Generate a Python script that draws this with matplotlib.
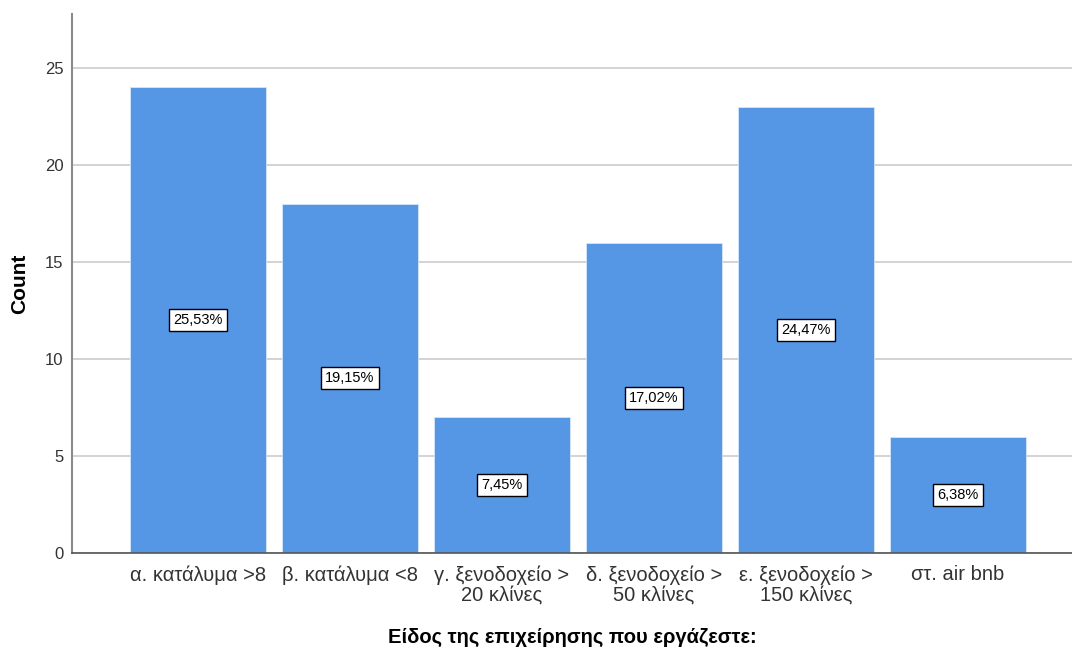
import matplotlib
matplotlib.use("Agg")
import matplotlib.pyplot as plt

categories = [
	"α. κατάλυμα >8",
	"β. κατάλυμα <8",
	"γ. ξενοδοχείο >\n20 κλίνες",
	"δ. ξενοδοχείο >\n50 κλίνες",
	"ε. ξενοδοχείο >\n150 κλίνες",
	"στ. air bnb",
]
counts = [24, 18, 7, 16, 23, 6]
yticks = [0, 5, 10, 15, 20, 25]

plt.rcParams["font.family"] = ["Liberation Sans", "DejaVu Sans"]

fig = plt.figure(figsize=(10.72, 6.49), dpi=100)
ax = fig.add_axes([72 / 1072, 96 / 649, 1000 / 1072, 539 / 649])

total = sum(counts)
x = list(range(len(categories)))
ax.bar(x, counts, width=136 / 152, color="#5596e5", edgecolor="#d6e6fa", linewidth=0.6, zorder=2)

# percentage boxes in the middle of each bar
for xi, c in zip(x, counts):
	pct = ("%.2f%%" % (100.0 * c / total)).replace(".", ",")
	ax.text(xi, c / 2, pct, ha="center", va="center", fontsize=10.5, zorder=3,
		bbox=dict(boxstyle="square,pad=0.27", facecolor="white", edgecolor="black", linewidth=1))

ax.set_xlim(-126 / 152, 874 / 152)
ax.set_ylim(0, 539 / 19.4)
ax.set_yticks(yticks)
ax.set_xticks(x)
ax.set_xticklabels(categories, fontsize=14.5, color="#333333", linespacing=1.05)
ax.tick_params(axis="y", labelsize=12, colors="#333333", length=0, pad=6)
ax.tick_params(axis="x", length=0, pad=9)
ax.grid(True, axis="y", color="#cccccc", linewidth=1.2, zorder=0)
ax.set_axisbelow(True)

for s in ["top", "right"]:
	ax.spines[s].set_visible(False)
ax.spines["left"].set_color("#8a8a8a")
ax.spines["left"].set_linewidth(1.5)
ax.spines["bottom"].set_color("#555555")
ax.spines["bottom"].set_linewidth(1.2)

ax.set_ylabel("Count", fontsize=15, fontweight="bold")
ax.yaxis.set_label_coords(-43 / 1000, 0.5)
ax.set_xlabel("Είδος της επιχείρησης που εργάζεστε:", fontsize=14.5, fontweight="bold")
ax.xaxis.set_label_coords(0.5, -75 / 539)

fig.savefig("out.png", dpi=100)
